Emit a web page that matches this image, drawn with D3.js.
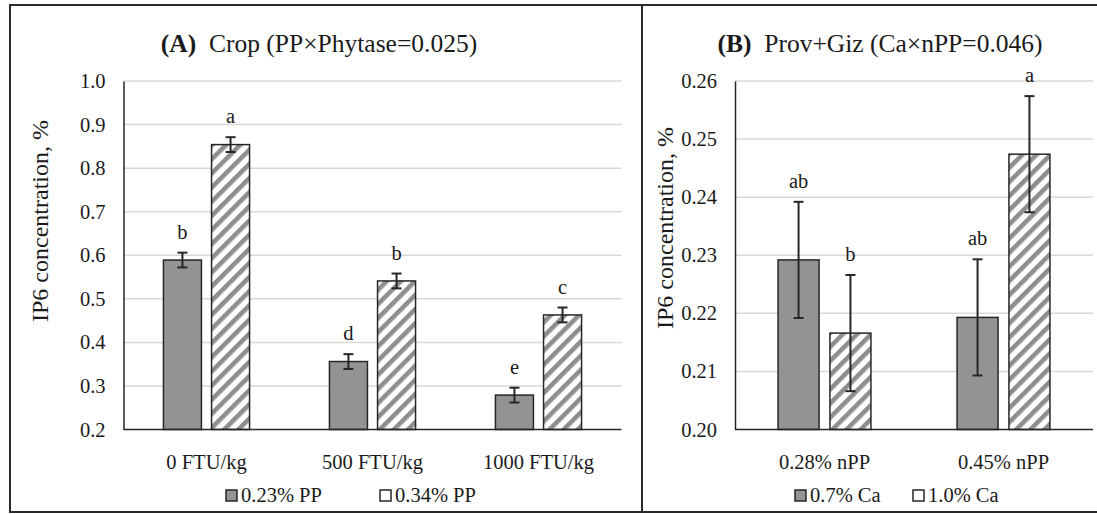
<!DOCTYPE html>
<html>
<head>
<meta charset="utf-8">
<script src="https://cdn.jsdelivr.net/npm/d3@7"></script>
<style>
  body { margin: 0; background: #fff; }
  text { font-family: "Liberation Serif", "Times New Roman", serif; fill: #1a1a1a; }
</style>
</head>
<body>
<div id="chart-area"></div>
<script>
// Panel A datos
const phytaseCats = ["0 FTU/kg", "500 FTU/kg", "1000 FTU/kg"];
const pp023 = [0.589, 0.356, 0.279];
const pp034 = [0.854, 0.541, 0.463];
const pp023Err = [0.017, 0.017, 0.017];
const pp034Err = [0.017, 0.017, 0.017];
const pp023Letters = ["b", "d", "e"];
const pp034Letters = ["a", "b", "c"];
const seriesA = ["0.23% PP", "0.34% PP"];
const ticksA = [0.2, 0.3, 0.4, 0.5, 0.6, 0.7, 0.8, 0.9, 1.0];

// Panel B datos
const nppCats = ["0.28% nPP", "0.45% nPP"];
const ca07 = [0.2292, 0.2193];
const ca10 = [0.2166, 0.2474];
const ca07Err = [0.0100, 0.0100];
const ca10Err = [0.0100, 0.0100];
const ca07Letters = ["ab", "ab"];
const ca10Letters = ["b", "a"];
const seriesB = ["0.7% Ca", "1.0% Ca"];
const ticksB = [0.20, 0.21, 0.22, 0.23, 0.24, 0.25, 0.26];

const W = 1097, H = 514;
const svg = d3.select("#chart-area")
    .append("svg")
    .attr("width", W)
    .attr("height", H);

// patrón rayado
const defs = svg.append("defs");
const pat = defs.append("pattern")
    .attr("id", "hatch")
    .attr("patternUnits", "userSpaceOnUse")
    .attr("width", 10)
    .attr("height", 10)
    .attr("patternTransform", "rotate(45)");
pat.append("rect").attr("width", 10).attr("height", 10).attr("fill", "#fff");
pat.append("rect").attr("width", 4.6).attr("height", 10).attr("fill", "#8e8e8e");

const fills = ["#939393", "url(#hatch)"];
const legendFills = ["#939393", "#fff"];

// marco exterior
svg.append("rect")
    .attr("x", 10).attr("y", 5)
    .attr("width", 1095).attr("height", 507)
    .attr("fill", "none").attr("stroke", "#2b2b2b").attr("stroke-width", 2);
svg.append("line")
    .attr("x1", 642).attr("x2", 642).attr("y1", 5).attr("y2", 512)
    .attr("stroke", "#2b2b2b").attr("stroke-width", 2);

function drawPanel(p) {
    const g = svg.append("g");

    const y = d3.scaleLinear().domain(p.yDomain).range([429.5, 81]);
    const x = d3.scaleBand().domain(p.cats).range(p.xRange);
    const xs = d3.scaleBand().domain([0, 1]).range([0, x.bandwidth()])
        .paddingInner(0.21).paddingOuter(0.83);

    // rejilla
    g.selectAll(".grid")
        .data(p.ticks.slice(1))
        .enter().append("line")
        .attr("x1", p.xRange[0]).attr("x2", p.xRange[1])
        .attr("y1", d => y(d)).attr("y2", d => y(d))
        .attr("stroke", "#d9d9d9").attr("stroke-width", 1.5);

    // eje y
    const yAxis = d3.axisLeft(y).tickValues(p.ticks).tickSize(0).tickPadding(18)
        .tickFormat(d3.format(p.fmt));
    const ya = g.append("g").attr("transform", `translate(${p.xRange[0]},0)`).call(yAxis);
    ya.select(".domain").attr("stroke", "#262626").attr("stroke-width", 1.5);
    ya.selectAll("text").style("font-size", "20.5px").style("font-family", "Liberation Serif").attr("fill", "#1a1a1a");

    const rows = [];
    p.cats.forEach((c, i) => {
        p.vals.forEach((arr, s) => {
            rows.push({ cat: c, s: s, v: arr[i], e: p.errs[s][i], l: p.letters[s][i] });
        });
    });

    g.selectAll(".bar")
        .data(rows)
        .enter().append("rect")
        .attr("x", d => x(d.cat) + xs(d.s))
        .attr("y", d => y(d.v))
        .attr("width", xs.bandwidth())
        .attr("height", d => y(p.yDomain[0]) - y(d.v))
        .attr("fill", d => fills[d.s])
        .attr("stroke", "#262626")
        .attr("stroke-width", 1.5);

    // barras de error
    const cx = d => x(d.cat) + xs(d.s) + xs.bandwidth() / 2;
    const eg = g.selectAll(".err").data(rows).enter().append("g")
        .attr("stroke", "#262626").attr("stroke-width", 2);
    eg.append("line").attr("x1", cx).attr("x2", cx)
        .attr("y1", d => y(d.v + d.e)).attr("y2", d => y(d.v - d.e));
    eg.append("line").attr("x1", d => cx(d) - 5).attr("x2", d => cx(d) + 5)
        .attr("y1", d => y(d.v + d.e)).attr("y2", d => y(d.v + d.e));
    eg.append("line").attr("x1", d => cx(d) - 5).attr("x2", d => cx(d) + 5)
        .attr("y1", d => y(d.v - d.e)).attr("y2", d => y(d.v - d.e));

    // letras
    g.selectAll(".lbl").data(rows).enter().append("text")
        .attr("x", cx)
        .attr("y", d => y(d.v + d.e) - 14)
        .attr("text-anchor", "middle")
        .style("font-size", "20.5px")
        .text(d => d.l);

    // eje x
    g.append("line")
        .attr("x1", p.xRange[0]).attr("x2", p.xRange[1])
        .attr("y1", y(p.yDomain[0])).attr("y2", y(p.yDomain[0]))
        .attr("stroke", "#262626").attr("stroke-width", 1.5);
    g.selectAll(".cat").data(p.cats).enter().append("text")
        .attr("x", d => x(d) + x.bandwidth() / 2)
        .attr("y", 469)
        .attr("text-anchor", "middle")
        .style("font-size", "20.5px")
        .text(d => d);

    // título eje y
    g.append("text")
        .attr("transform", `translate(${p.yTitleX},${p.yTitleY}) rotate(-90)`)
        .attr("text-anchor", "middle")
        .style("font-size", "24px")
        .text("IP6 concentration, %");

    // título
    const t = g.append("text")
        .attr("x", p.titleX).attr("y", 52)
        .attr("text-anchor", "middle")
        .style("font-size", "25.5px");
    t.append("tspan").style("font-weight", "bold").text(p.tag);
    t.append("tspan").attr("xml:space", "preserve").text("  " + p.title);

    // leyenda
    p.series.forEach((s, i) => {
        const lx = p.legendX[i];
        g.append("rect")
            .attr("x", lx).attr("y", 490)
            .attr("width", 11).attr("height", 11)
            .attr("fill", legendFills[i])
            .attr("stroke", "#262626").attr("stroke-width", 1.5);
        g.append("text")
            .attr("x", lx + 15).attr("y", 502)
            .style("font-size", "20.5px")
            .text(s);
    });
}

drawPanel({
    cats: phytaseCats, vals: [pp023, pp034], errs: [pp023Err, pp034Err],
    letters: [pp023Letters, pp034Letters], series: seriesA,
    yDomain: [0.2, 1.0], ticks: ticksA, fmt: ".1f",
    xRange: [123.5, 621.5],
    yTitleX: 48, yTitleY: 221,
    titleX: 319, tag: "(A)", title: "Crop (PP\u00d7Phytase=0.025)",
    legendX: [226, 380]
});

drawPanel({
    cats: nppCats, vals: [ca07, ca10], errs: [ca07Err, ca10Err],
    letters: [ca07Letters, ca10Letters], series: seriesB,
    yDomain: [0.20, 0.26], ticks: ticksB, fmt: ".2f",
    xRange: [735, 1093],
    yTitleX: 673, yTitleY: 228,
    titleX: 880, tag: "(B)", title: "Prov+Giz (Ca\u00d7nPP=0.046)",
    legendX: [795, 913]
});
</script>
</body>
</html>
